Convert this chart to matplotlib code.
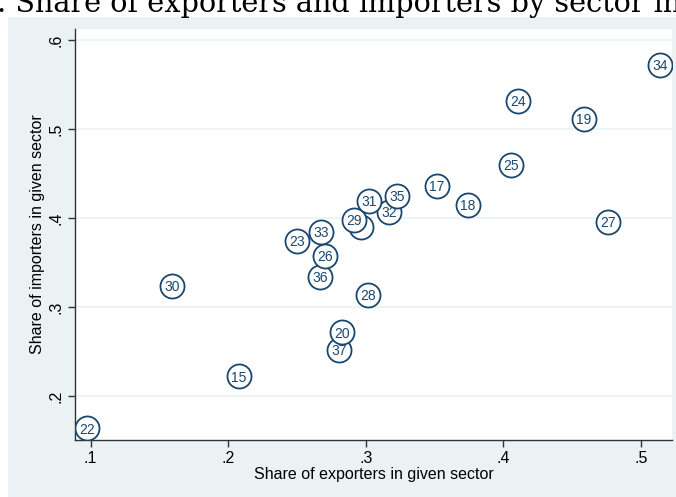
import matplotlib
matplotlib.use("Agg")
import matplotlib.pyplot as plt
from matplotlib.patches import Rectangle

# sector codes and their shares
sectors = ['22', '15', '30', '37', '20', '28', '36', '26', '23', '33',
           '21', '29', '32', '31', '35', '17', '18', '25', '24', '19', '27', '34']
exporters = [0.0975, 0.2079, 0.1593, 0.2806, 0.2828, 0.3017, 0.2667, 0.2704, 0.2500, 0.2675,
             0.2965, 0.2914, 0.3169, 0.3024, 0.3227, 0.3518, 0.3743, 0.4056, 0.4107, 0.4586, 0.4761, 0.5138]
importers = [0.1644, 0.2228, 0.3239, 0.2521, 0.2722, 0.3138, 0.3340, 0.3576, 0.3744, 0.3845,
             0.3902, 0.3980, 0.4071, 0.4194, 0.4251, 0.4363, 0.4150, 0.4599, 0.5318, 0.5116, 0.3959, 0.5722]
hidden = ['21']  # label covered by 29 in the original

x_ticks = [0.1, 0.2, 0.3, 0.4, 0.5]
y_ticks = [0.2, 0.3, 0.4, 0.5, 0.6]

navy = '#1a476f'
bg = '#eaf2f3'

plt.rcParams['font.family'] = ['Liberation Sans', 'DejaVu Sans']

fig = plt.figure(figsize=(6.76, 4.97), dpi=100)
fig.patch.set_facecolor('white')
fig.patches.append(Rectangle((8 / 676, 0), 1, 1 - 17 / 497, transform=fig.transFigure,
                             facecolor=bg, edgecolor='none', zorder=-10))

fig.text(-0.004, 1 - 12 / 497, '. Share of exporters and importers by sector in',
         family=['DejaVu Serif'], fontsize=20.7, color='black', ha='left', va='baseline')

ax = fig.add_axes([75 / 676, 1 - 440 / 497, (672 - 75) / 676, (440 - 29) / 497])
ax.set_facecolor('white')
ax.set_xlim(0.0887, 0.5226)
ax.set_ylim(0.1510, 0.6123)

for yt in y_ticks:
    ax.axhline(yt, color=bg, lw=1.2, zorder=1)

for i, (s, x, y) in enumerate(zip(sectors, exporters, importers)):
    ax.scatter([x], [y], s=300, facecolor='white', edgecolor=navy, linewidth=1.3, zorder=3 + 2 * i)
    if s not in hidden:
        ax.text(x, y, s, ha='center', va='center_baseline', fontsize=10, color=navy, zorder=4 + 2 * i)

for sp in ['top', 'right']:
    ax.spines[sp].set_visible(False)
for sp in ['left', 'bottom']:
    ax.spines[sp].set_color('#333333')
    ax.spines[sp].set_linewidth(1.0)

ax.set_xticks(x_ticks)
ax.set_xticklabels(['.' + f'{t:.1f}'.split('.')[1] for t in x_ticks])
ax.set_yticks(y_ticks)
ax.set_yticklabels(['.' + f'{t:.1f}'.split('.')[1] for t in y_ticks], rotation=90, va='center')
ax.tick_params(axis='both', length=5, width=1, color='#333333', labelsize=11.5, pad=3)

ax.set_xlabel('Share of exporters in given sector', fontsize=11.5, labelpad=1)
ax.set_ylabel('Share of importers in given sector', fontsize=11.5, labelpad=3)

fig.savefig('out.png', dpi=100)
